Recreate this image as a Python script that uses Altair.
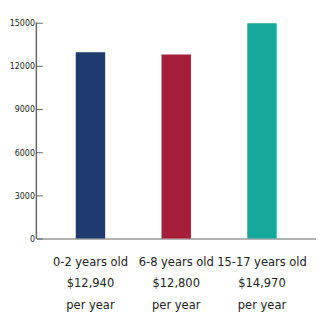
import altair as alt
import pandas as pd

ages = ["0-2 years old", "6-8 years old", "15-17 years old"]
costs = [12940, 12800, 14970]
colors = ["#1e3a6e", "#a61e3a", "#16a89a"]
y_ticks = [0, 3000, 6000, 9000, 12000, 15000]

labels = [f"{a}|${c:,}|per year" for a, c in zip(ages, costs)]
df = pd.DataFrame({"label": labels, "cost": costs, "color": colors})

FONT = "DejaVu Sans Condensed, Roboto, sans-serif"

bars = alt.Chart(df).mark_bar(size=30).encode(
    x=alt.X("label:N", sort=labels, title=None,
            scale=alt.Scale(paddingInner=0.68, paddingOuter=0.47),
            axis=alt.Axis(labelAngle=0, ticks=False, domainColor="#666",
                          domainWidth=1.2, labelExpr="split(datum.label, '|')",
                          labelFont=FONT, labelFontSize=13, labelColor="#222",
                          labelLineHeight=22, labelPadding=17, labelBaseline="top")),
    y=alt.Y("cost:Q", title=None,
            scale=alt.Scale(domain=[0, 15000], nice=False),
            axis=alt.Axis(values=y_ticks, format="d", grid=False, domain=False,
                          offset=-6, tickSize=6, tickColor="#666",
                          labelFont=FONT, labelFontSize=9, labelColor="#222",
                          labelPadding=2)),
    color=alt.Color("color:N", scale=None),
)

yline = alt.Chart(df).mark_rule(color="#666", strokeWidth=1.2).encode(
    x=alt.value(0), y=alt.value(0), y2=alt.value(220)
)

chart = alt.layer(bars, yline).properties(
    width=285, height=220,
    autosize=alt.AutoSizeParams(type="none"),
    padding={"left": 29, "top": 12, "right": 0, "bottom": 78},
).configure_view(stroke=None)

chart.save("out.html", embed_options={"renderer": "svg", "actions": False})
